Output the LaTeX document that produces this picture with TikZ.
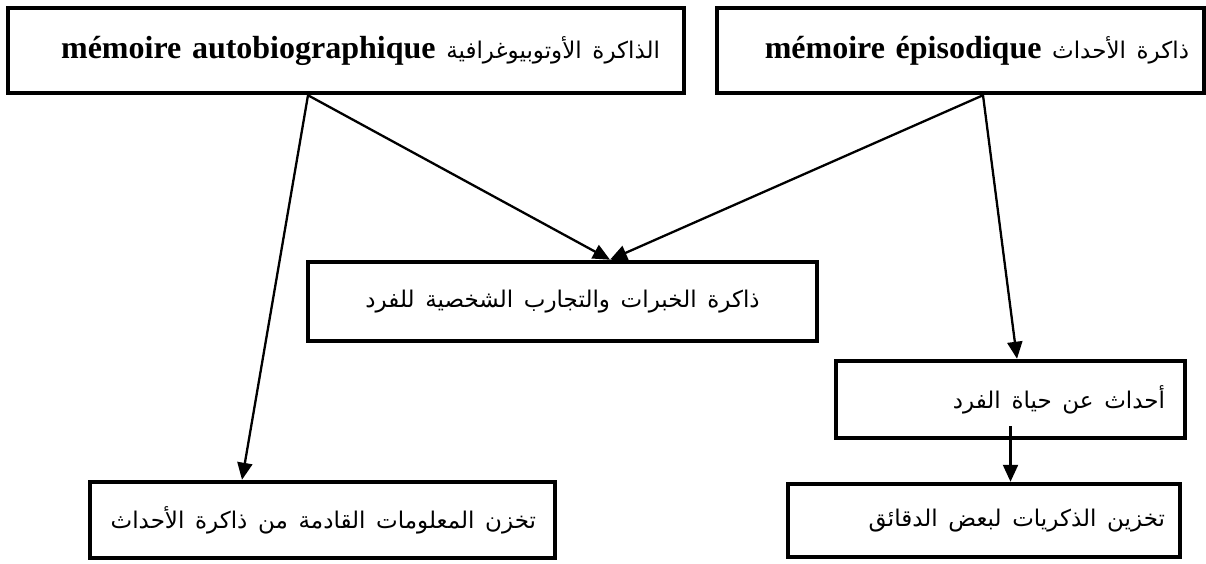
\documentclass[tikz,border=0pt]{standalone}
\usepackage{fontspec}
\setmainfont{Liberation Serif}
\newfontfamily\arabicfont[Script=Arabic]{DejaVu Sans}
\TeXXeTstate=1
\usetikzlibrary{arrows.meta}
\newcommand\artext[1]{\mbox{\arabicfont\fontsize{23}{28}\selectfont\beginR #1\endR}}

\begin{document}
\begin{tikzpicture}[
  x=1pt, y=-1pt,
  font=\fontsize{32}{38}\selectfont,
  memobox/.style={draw=black, line width=4.5pt, inner ysep=0pt, align=right},
  arr/.style={-{Triangle[length=17pt, width=15pt]}, line width=2.3pt}
]
\useasboundingbox (0,0) rectangle (1206,563);
% ----- top row: the two kinds of memory -----
\node[memobox, minimum height=85pt, text width=628pt, inner xsep=24pt] (autob) at (346,50.5)
  {\textbf{mémoire autobiographique} \artext{الذاكرة الأوتوبيوغرافية}};
\node[memobox, minimum height=85pt, text width=457pt, inner xsep=15pt] (episod) at (960.5,50.5)
  {\textbf{mémoire épisodique} \artext{ذاكرة الأحداث}};
% ----- middle: shared box and the episodic branch -----
\node[memobox, align=center, minimum height=79pt, text width=479pt, inner xsep=15pt] (exper) at (562.5,301.5)
  {\artext{ذاكرة الخبرات والتجارب الشخصية للفرد}};
\node[memobox, minimum height=77pt, text width=309pt, inner xsep=20pt] (life) at (1010.5,399.5)
  {\artext{أحداث عن حياة الفرد}};
% ----- bottom row -----
\node[memobox, minimum height=76pt, text width=427pt, inner xsep=19pt] (incoming) at (322.5,520)
  {\artext{تخزن المعلومات القادمة من ذاكرة الأحداث}};
\node[memobox, minimum height=73pt, text width=362pt, inner xsep=15pt] (minutes) at (984,520.5)
  {\artext{تخزين الذكريات لبعض الدقائق}};
% ----- connectors -----
\draw[arr] ([xshift=-38pt]autob.south) -- ([xshift=47.5pt]exper.north);
\draw[arr] ([xshift=-38pt]autob.south) -- ([xshift=-80.5pt]incoming.north);
\draw[arr] ([xshift=22.5pt]episod.south) -- ([xshift=47.5pt]exper.north);
\draw[arr] ([xshift=22.5pt]episod.south) -- ([xshift=6.5pt]life.north);
\draw[arr] ([yshift=14pt]life.south) -- (life.south |- minutes.north);
\end{tikzpicture}
\end{document}
